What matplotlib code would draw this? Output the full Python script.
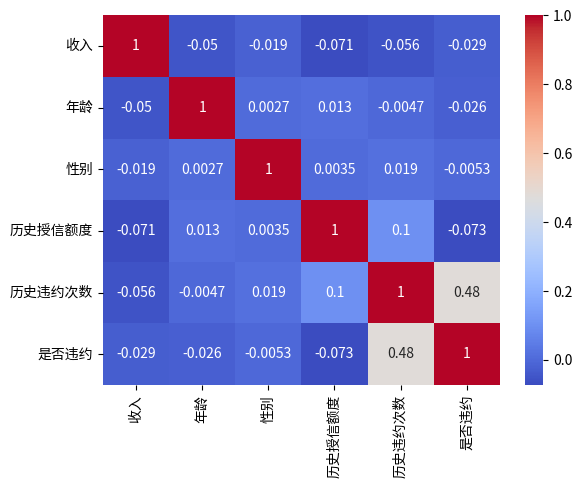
import numpy as np
import pandas as pd
import matplotlib
matplotlib.use('Agg')
import matplotlib.pyplot as plt
import seaborn as sns

plt.rcParams['font.family'] = ['Noto Sans CJK SC', 'DejaVu Sans']
plt.rcParams['axes.unicode_minus'] = False

# 相关系数矩阵
labels = ['收入', '年龄', '性别', '历史授信额度', '历史违约次数', '是否违约']
row_income = [1, -0.05, -0.019, -0.071, -0.056, -0.029]
row_age = [-0.05, 1, 0.0027, 0.013, -0.0047, -0.026]
row_gender = [-0.019, 0.0027, 1, 0.0035, 0.019, -0.0053]
row_credit = [-0.071, 0.013, 0.0035, 1, 0.1, -0.073]
row_hist_default = [-0.056, -0.0047, 0.019, 0.1, 1, 0.48]
row_default = [-0.029, -0.026, -0.0053, -0.073, 0.48, 1]

corr = pd.DataFrame([row_income, row_age, row_gender, row_credit,
                     row_hist_default, row_default],
                    index=labels, columns=labels)

plt.figure(figsize=(6.4, 4.8), dpi=100)
sns.heatmap(corr, annot=True, cmap='coolwarm')
plt.savefig('out.png', dpi=100, bbox_inches='tight')
